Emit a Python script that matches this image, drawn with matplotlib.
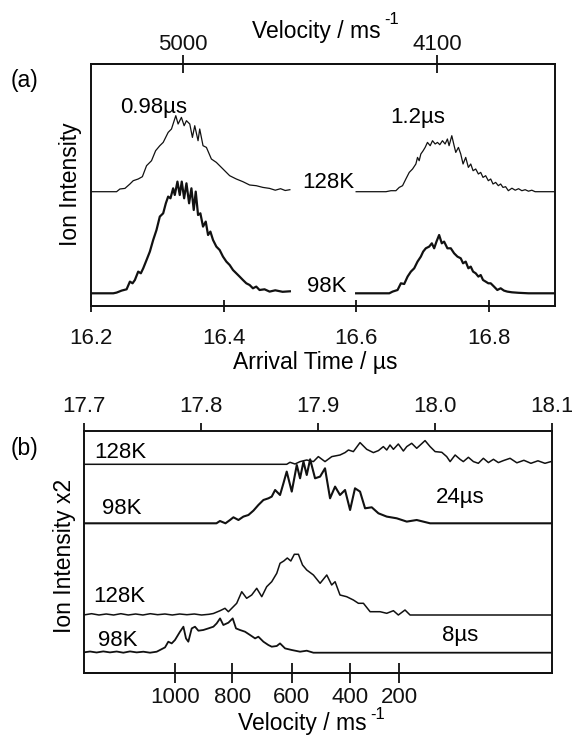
import numpy as np
import matplotlib.pyplot as plt

plt.rcParams['font.family'] = ['Liberation Sans', 'DejaVu Sans']
plt.rcParams['font.size'] = 16

# ---- panel (a): arrival time traces (time in us, intensity above own baseline)
t_a128_l = [16.200, 16.2386, 16.2436, 16.2512, 16.2587, 16.2637, 16.2712, 16.2775, 16.2838, 16.2913,
            16.2975, 16.3038, 16.3089, 16.3164, 16.3214, 16.3279, 16.3314, 16.3364, 16.3405, 16.344,
            16.349, 16.353, 16.3565, 16.3615, 16.364, 16.369, 16.3741, 16.3816, 16.3891, 16.3991,
            16.4092, 16.4192, 16.4292, 16.4393, 16.4493, 16.4593, 16.4694, 16.478, 16.486, 16.493, 16.500]
h_a128_l = [0, 0, 2.7, 3.3, 7.7, 11, 12.7, 15, 26, 31,
            41, 46, 49.3, 59.3, 62.7, 76, 67.7, 74.3, 66, 71,
            67.7, 54.3, 66, 51, 62.7, 46, 44.3, 32.7, 29.3, 22.7,
            16, 12.7, 10, 6.7, 6, 4.3, 3.3, 1.5, 3, 1.2, 2]

t_a98_l = [16.200, 16.2336, 16.2386, 16.2462, 16.2537, 16.2587, 16.2627, 16.2662, 16.2712, 16.2752,
           16.2788, 16.2838, 16.2888, 16.2938, 16.2988, 16.3038, 16.3089, 16.3129, 16.3164, 16.3199,
           16.3239, 16.3264, 16.3304, 16.3339, 16.3369, 16.3405, 16.344, 16.348, 16.3515, 16.355,
           16.358, 16.3615, 16.365, 16.369, 16.3731, 16.3766, 16.3801, 16.3841, 16.3891, 16.3941,
           16.3991, 16.4042, 16.4092, 16.4142, 16.4192, 16.4242, 16.4292, 16.4343, 16.4393, 16.4443,
           16.4493, 16.4543, 16.4618, 16.4694, 16.478, 16.489, 16.500]
h_a98_l = [0, 0, 0.7, 2.7, 4, 11.7, 10, 13.3, 21.7, 20,
           25, 33.3, 41.7, 53.3, 63.3, 76.7, 80, 90, 96.7, 95,
           105, 98.3, 111.7, 98.3, 111.7, 95, 110, 90, 105, 83.3,
           101.7, 78.3, 80, 66.7, 71.7, 58.3, 61.7, 53.3, 46.7, 43.3,
           36.7, 31.7, 28.3, 23.3, 20, 16.7, 13.3, 10, 8.3, 5,
           6.7, 3.3, 4, 1.7, 3, 1.5, 2]

t_a128_r = [16.600, 16.645, 16.6525, 16.660, 16.665, 16.670, 16.675, 16.6801, 16.6851, 16.6901,
            16.6926, 16.6951, 16.6976, 16.7011, 16.7041, 16.7076, 16.7117, 16.7152, 16.7192, 16.7227,
            16.7262, 16.7302, 16.7342, 16.7377, 16.7402, 16.7443, 16.7478, 16.7503, 16.7543, 16.7578,
            16.7613, 16.7653, 16.7693, 16.7729, 16.7764, 16.7804, 16.7844, 16.7879, 16.7914, 16.7954,
            16.7994, 16.803, 16.8065, 16.8105, 16.8145, 16.818, 16.8215, 16.8255, 16.8296, 16.835,
            16.840, 16.845, 16.850, 16.855, 16.860, 16.865, 16.870, 16.900]
h_a128_r = [0, 0, 1, 1, 4.3, 6, 12.7, 19.3, 22.7, 27.7,
            34.3, 31, 37.7, 41, 44.3, 49.3, 46, 51, 47.7, 49.3,
            47, 51, 47.7, 52.7, 46, 56, 46, 39.3, 44.3, 37.7,
            27.7, 34.3, 24.3, 27.7, 21, 22.7, 17.7, 19.3, 14.3, 16,
            11, 12.7, 7.7, 9.3, 6, 7.7, 4.3, 5, 1, 3.5,
            1.5, 3, 1, 2, 0.5, 1.5, 0, 0]

t_a98_r = [16.600, 16.650, 16.655, 16.6625, 16.6675, 16.6725, 16.6776, 16.6826, 16.6876, 16.6926,
           16.6976, 16.7011, 16.7051, 16.7102, 16.7142, 16.7177, 16.7212, 16.7252, 16.7292, 16.7327,
           16.7377, 16.7428, 16.7478, 16.7528, 16.7578, 16.7613, 16.7653, 16.7693, 16.7729, 16.7764,
           16.7804, 16.7844, 16.7879, 16.7914, 16.7954, 16.7994, 16.803, 16.808, 16.813, 16.818,
           16.823, 16.828, 16.835, 16.845, 16.860, 16.900]
h_a98_r = [0, 0, 1.7, 3.3, 10, 9.3, 16.7, 21.7, 25, 31.7,
           36.7, 41.7, 45, 46.7, 50, 45, 51.7, 58.3, 50, 51.7,
           45, 45, 40, 36.7, 35, 30, 31.7, 25, 26.7, 21.7,
           20, 16.7, 18.3, 13.3, 11.7, 10, 10, 6.7, 3.3, 5,
           2.7, 1.7, 1, 0.5, 0, 0]

base_a = {'128K': 114.3, '98K': 12.7}
time_ticks_a = [16.2, 16.4, 16.6, 16.8]
vel_ticks_a = [16.339, 16.722]
vel_labels_a = ['5000', '4100']

# ---- panel (b)
t_b128_24 = [17.700, 17.8735, 17.8763, 17.8806, 17.8849, 17.8906, 17.8963, 17.9005, 17.9062, 17.912,
             17.919, 17.9233, 17.9262, 17.9304, 17.9361, 17.9418, 17.9475, 17.9518, 17.956, 17.9589,
             17.9617, 17.9646, 17.9688, 17.9731, 17.976, 17.9802, 17.9845, 17.9916, 17.9959, 18.0002,
             18.0059, 18.0101, 18.013, 18.0173, 18.0215, 18.0243, 18.0286, 18.0329, 18.0371, 18.0414,
             18.0457, 18.050, 18.0542, 18.0585, 18.0642, 18.070, 18.076, 18.082, 18.088, 18.094, 18.100]
h_b128_24 = [0, 0, 2, 0.3, 2.7, 4.3, 2.7, 7.7, 2.7, 7.7,
             9.3, 11.7, 14.3, 12.7, 21.7, 15, 11.7, 13.7, 17.7, 14.3,
             19.3, 15, 20.3, 13.3, 17.7, 21, 16, 23.7, 17.7, 12.7,
             12, 7.7, 2.7, 9.3, 5, 2.7, 7, 2.7, 1, 6,
             1.7, 5, 1.7, 3.7, 6, 1.5, 4, 1, 3.5, 1, 3]

t_b98_24 = [17.700, 17.8135, 17.8165, 17.8212, 17.8251, 17.828, 17.8323, 17.8365, 17.8408, 17.8451,
            17.8493, 17.8536, 17.8579, 17.8607, 17.8636, 17.8678, 17.8707, 17.8735, 17.8778, 17.8821,
            17.8849, 17.8878, 17.8906, 17.8935, 17.8977, 17.902, 17.9062, 17.9105, 17.9148, 17.919,
            17.9233, 17.9276, 17.9318, 17.9361, 17.9404, 17.9461, 17.9518, 17.9589, 17.9674, 17.976,
            17.9845, 17.9959, 18.100]
h_b98_24 = [0, 0, 2.3, 0, 3.3, 6, 3.3, 6.7, 8.3, 12.7,
            18.3, 23.3, 25, 26.7, 33.3, 28.3, 40, 51.7, 31.7, 58.3,
            45, 61.7, 48.3, 64, 45, 46.7, 55, 25, 36.7, 28.3,
            33.3, 13.3, 35, 31.7, 15, 16, 10, 6.7, 5, 1.7,
            3.3, 0, 0]

t_b128_8 = [17.700, 17.7069, 17.7132, 17.7194, 17.7257, 17.7319, 17.7382, 17.7445, 17.7507, 17.757,
            17.7633, 17.7695, 17.7758, 17.7821, 17.7883, 17.7946, 17.8008, 17.8071, 17.8109, 17.8166,
            17.8208, 17.8237, 17.8308, 17.8351, 17.8393, 17.8436, 17.8479, 17.8522, 17.8564, 17.8607,
            17.865, 17.8678, 17.871, 17.874, 17.877, 17.880, 17.8835, 17.887, 17.8906, 17.8963,
            17.902, 17.9077, 17.9119, 17.9148, 17.919, 17.9247, 17.9304, 17.9347, 17.939, 17.9447,
            17.9532, 17.9589, 17.9646, 17.9688, 17.9745, 17.9788, 18.100]
h_b128_8 = [0, 1.3, 0, 1, 0, 1.3, 0, 1, 0, 1.3,
            0.3, 1, 0, 1, 0.3, 1, 0, 0.7, 1.5, 4.3,
            6.7, 3.3, 11.7, 23.3, 16.7, 20, 26.7, 18.3, 28.3, 33.3,
            41.7, 51.7, 54, 57, 54, 60.7, 60.7, 50, 45, 40,
            31.7, 40, 30, 33.3, 20, 18.3, 15, 11.7, 11.7, 3.3,
            3.3, 1.7, 4.3, 0, 5, 0, 0]

t_b98_8 = [17.700, 17.7056, 17.7112, 17.7169, 17.7226, 17.7283, 17.734, 17.7397, 17.7454, 17.7511,
           17.7568, 17.7625, 17.7653, 17.7696, 17.7724, 17.7753, 17.7781, 17.7824, 17.7853, 17.7875,
           17.7895, 17.7924, 17.7952, 17.7981, 17.8023, 17.8066, 17.8109, 17.8137, 17.8166, 17.8194,
           17.8237, 17.8274, 17.8302, 17.8336, 17.8379, 17.8422, 17.8465, 17.8493, 17.8536, 17.8578,
           17.8607, 17.865, 17.8678, 17.8721, 17.8778, 17.8849, 17.8906, 17.8963, 18.100]
h_b98_8 = [0.3, 1.2, 0.2, 1.3, 0.3, 1.2, 0, 1.3, 0.3, 1,
           0, 1, 2.7, 5.3, 11, 9.3, 12.7, 21, 26, 14.3,
           11, 24.3, 26, 22, 22.7, 24.3, 26, 29.3, 34.3, 27.7,
           30, 34.3, 24.3, 22.7, 21, 17.7, 14.3, 16, 11, 7.7,
           6, 6.7, 9.3, 4.3, 2.7, 1, 2, 0, 0]

base_b = {'128K_24': 208.7, '98K_24': 149.7, '128K_8': 58.0, '98K_8': 20.3}
time_ticks_b = [17.7, 17.8, 17.9, 18.0, 18.1]
vel_ticks_b = [17.778, 17.827, 17.8776, 17.9277, 17.9694]
vel_labels_b = ['1000', '800', '600', '400', '200']

W, H = 572, 737
fig = plt.figure(figsize=(W / 100, H / 100), dpi=100)


def box(l, t, r, b):
    return [l / W, 1 - b / H, (r - l) / W, (b - t) / H]


def put(x, y, s, **kw):
    kw.setdefault('va', 'center')
    kw.setdefault('ha', 'center')
    fig.text(x / W, 1 - y / H, s, **kw)


ink = '#111111'

# panel (a)
ax1 = fig.add_axes(box(91, 64, 555, 306))
ax1.plot(t_a128_l, base_a['128K'] + np.array(h_a128_l), color=ink, lw=0.9)
ax1.plot(t_a128_r, base_a['128K'] + np.array(h_a128_r), color=ink, lw=0.9)
ax1.plot(t_a98_l, base_a['98K'] + np.array(h_a98_l), color=ink, lw=1.6)
ax1.plot(t_a98_r, base_a['98K'] + np.array(h_a98_r), color=ink, lw=1.6)
ax1.set_xlim(16.2, 16.9)
ax1.set_ylim(0, 242)
ax1.set_yticks([])
ax1.set_xticks(time_ticks_a, labels=['%.1f' % v for v in time_ticks_a])
ax1.tick_params(axis='x', direction='inout', length=9, width=1.3, pad=11, colors=ink)
top1 = ax1.secondary_xaxis('top')
top1.set_xticks(vel_ticks_a, labels=vel_labels_a)
top1.tick_params(direction='inout', length=13, width=1.3, pad=0, colors=ink)

# panel (b)
ax2 = fig.add_axes(box(83.5, 431, 552, 673))
ax2.plot(t_b128_24, base_b['128K_24'] + np.array(h_b128_24), color=ink, lw=1.1)
ax2.plot(t_b98_24, base_b['98K_24'] + np.array(h_b98_24), color=ink, lw=1.5)
ax2.plot(t_b128_8, base_b['128K_8'] + np.array(h_b128_8), color=ink, lw=1.1)
ax2.plot(t_b98_8, base_b['98K_8'] + np.array(h_b98_8), color=ink, lw=1.3)
ax2.set_xlim(17.7, 18.1)
ax2.set_ylim(0, 242)
ax2.set_yticks([])
ax2.set_xticks(time_ticks_b, labels=['%.1f' % v for v in time_ticks_b])
ax2.tick_params(axis='x', top=True, bottom=False, labeltop=True, labelbottom=False,
                direction='out', length=6, width=1.3, pad=4, colors=ink)
bot2 = ax2.secondary_xaxis('bottom')
bot2.set_xticks(vel_ticks_b, labels=vel_labels_b)
bot2.tick_params(direction='inout', length=14, width=1.3, pad=3, colors=ink)

for a in (ax1, ax2, top1, bot2):
    for s in a.spines.values():
        s.set_linewidth(1.4)
        s.set_color(ink)

# labels (superscript "-1" drawn as its own small raised text)
put(252, 38, 'Velocity / ms', ha='left', va='baseline', fontsize=16.5)
put(384, 24, '-1', ha='left', va='baseline', fontsize=12)
put(315, 362, 'Arrival Time / µs', fontsize=16.5)
put(70, 184, 'Ion Intensity', rotation=90, fontsize=16.5)
put(24, 80, '(a)', fontsize=16.5)
put(154, 107, '0.98µs')
put(418, 118, '1.2µs')
put(354, 183, '128K', ha='right')
put(346.5, 287, '98K', ha='right')

put(24, 448, '(b)', fontsize=16.5)
put(64, 556, 'Ion Intensity x2', rotation=90, fontsize=16.5)
put(238, 730, 'Velocity / ms', ha='left', va='baseline', fontsize=16.5)
put(370, 719, '-1', ha='left', va='baseline', fontsize=12)
put(94.6, 452, '128K', ha='left')
put(102, 508, '98K', ha='left')
put(435.6, 497, '24µs', ha='left')
put(93.5, 597, '128K', ha='left')
put(98, 640, '98K', ha='left')
put(442, 635, '8µs', ha='left')

fig.savefig('out.png', dpi=100)
